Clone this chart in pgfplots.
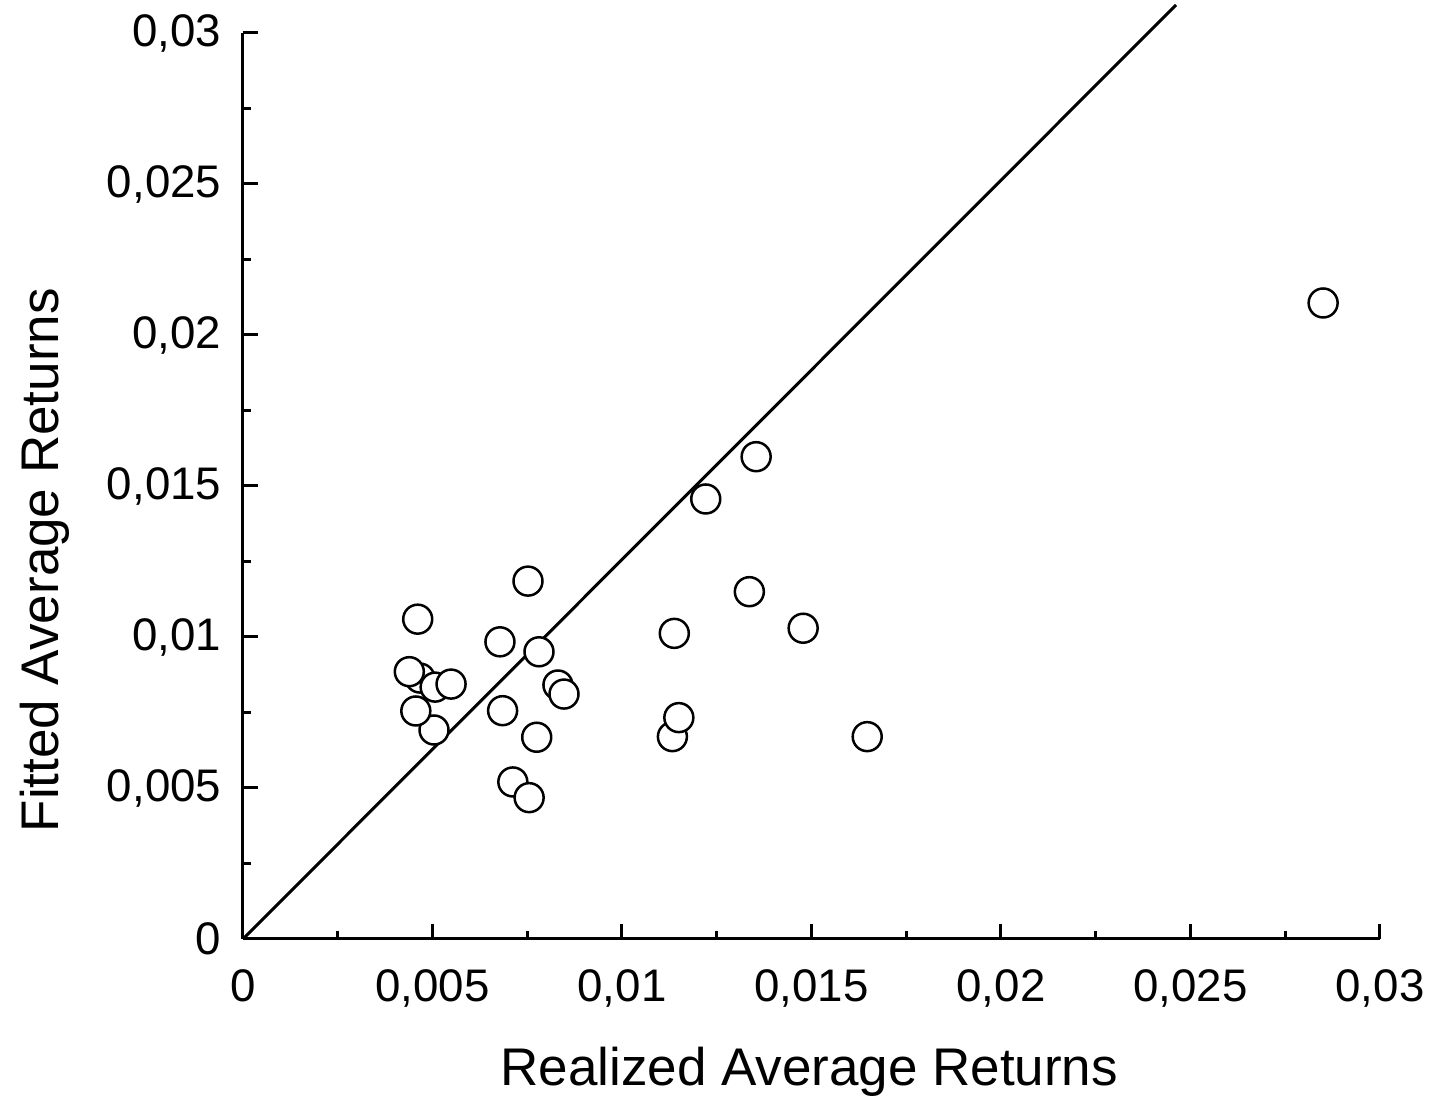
\documentclass[border=0pt]{standalone}
\usepackage{fontspec}
\setmainfont{Liberation Sans}
\usepackage{pgfplots}
\pgfplotsset{compat=1.18}
\begin{document}
\begin{tikzpicture}
\begin{axis}[
 at={(0,0)}, anchor=south west,
 scale only axis, width=341.1pt, height=271.8pt,
 xmin=0, xmax=0.03, ymin=0, ymax=0.03,
 scaled ticks=false,
 axis x line*=bottom, axis y line*=left,
 axis line style={-, line width=0.9pt},
 tick align=inside,
 major tick length=4.5pt, minor tick length=2.5pt,
 every tick/.style={black, line width=0.9pt},
 minor tick num=1,
 xtick={0,0.005,0.01,0.015,0.02,0.025,0.03},
 xticklabels={0,{0,005},{0,01},{0,015},{0,02},{0,025},{0,03}},
 ytick={0,0.005,0.01,0.015,0.02,0.025,0.03},
 yticklabels={0,{0,005},{0,01},{0,015},{0,02},{0,025},{0,03}},
 ticklabel style={font=\fontsize{13.7}{16}\selectfont},
 xticklabel style={yshift=-5.7pt},
 yticklabel style={xshift=-3pt},
 xlabel={Realized Average Returns}, ylabel={Fitted Average Returns},
 label style={font=\fontsize{15.9}{19}\selectfont},
 xlabel style={at={(axis description cs:0.498,-0.147)}, anchor=center},
 ylabel style={at={(axis description cs:-0.174,0.418)}, anchor=center},
 clip=false,
]
\addplot[only marks, mark=*, mark size=4.35pt, mark options={fill=white, draw=black, line width=0.75pt}] table {
x y
0.00467 0.00864
0.004388 0.008851
0.00507 0.00834
0.00549 0.00844
0.00504 0.00692
0.00456 0.00755
0.00461 0.01059
0.00752 0.01185
0.00678 0.00984
0.00781 0.00951
0.00831 0.00841
0.00847 0.00811
0.00685 0.00756
0.00775 0.00668
0.00712 0.00520
0.00755 0.00468
0.01354 0.01597
0.01221 0.01457
0.01336 0.01150
0.01138 0.01012
0.01478 0.01029
0.01133 0.00670
0.01150 0.00733
0.01647 0.00670
0.02850 0.02106
};
\addplot[black, line width=0.9pt, no marks] coordinates {(0,0) (0.02462,0.03093)};
\end{axis}
\pgfresetboundingbox
\path[use as bounding box] (-72.9pt,-49.2pt) rectangle (356.1pt,281.7pt);
\end{tikzpicture}
\end{document}
